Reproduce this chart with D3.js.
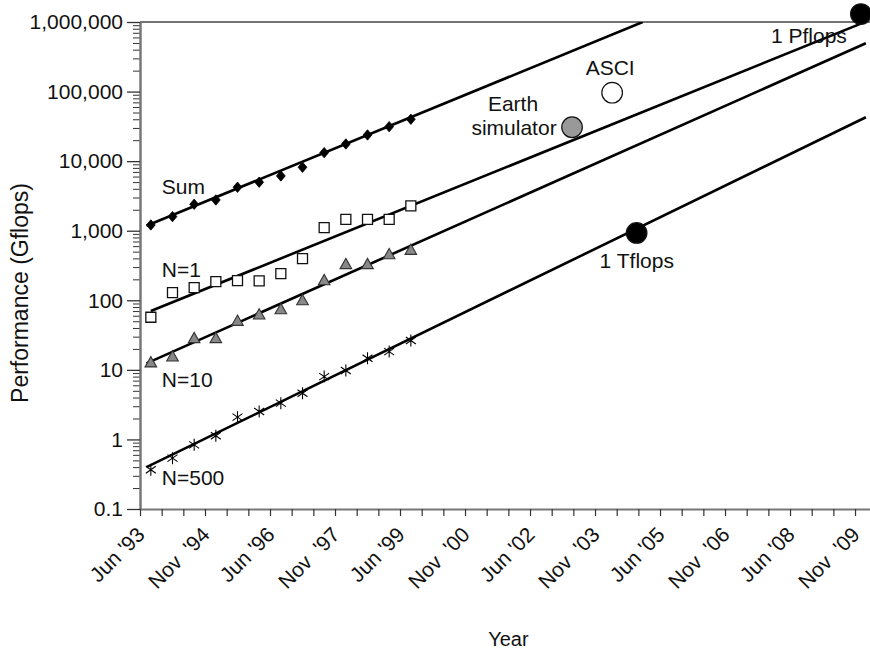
<!DOCTYPE html>
<html>
<head>
<meta charset="utf-8">
<script src="https://cdn.jsdelivr.net/npm/d3@7"></script>
<style>
  body { margin: 0; background: #fff; }
  svg text { font-family: "Liberation Sans", Arial, sans-serif; fill: #111; }
  .axis text { font-size: 21px; }
</style>
</head>
<body>
<svg id="chart"></svg>
<script>
// semester index: 0 = Jun '93, 1 = Nov '93, ... 33 = Nov '09
var tickLabels = ["Jun '93", "Nov\u00a0 '94", "Jun '96", "Nov\u00a0 '97", "Jun '99", "Nov\u00a0 '00",
                  "Jun '02", "Nov\u00a0 '03", "Jun '05", "Nov\u00a0 '06", "Jun '08", "Nov\u00a0 '09"];
var labelIdx = [0, 3, 6, 9, 12, 15, 18, 21, 24, 27, 30, 33];
var yMajor = [0.1, 1, 10, 100, 1000, 10000, 100000, 1000000];

var sumVals  = [1210, 1595, 2400, 2770, 4220, 4980, 6130, 8170, 13250, 17660, 23800, 31300, 40000];
var n1Vals   = [57, 129, 152, 186, 192, 190, 242, 397, 1110, 1460, 1460, 1460, 2270];
var n10Vals  = [12.5, 15.2, 27.9, 27.9, 49.4, 61.1, 72.8, 98, 190, 323, 323, 449, 518];
var n500Vals = [0.366, 0.538, 0.836, 1.13, 2.09, 2.52, 3.32, 4.62, 8.0, 9.77, 14.7, 18.3, 26.4];

// fitted trend lines, [semester, Gflops] at both ends
var sumTrend  = [[-0.2, 1180], [22.7, 1000000]];
var n1Trend   = [[0, 70], [32.8, 955000]];
var n10Trend  = [[-0.2, 12.4], [33, 494000]];
var n500Trend = [[-0.2, 0.40], [33, 42800]];

var milestones = [
  {name: "Earth simulator", i: 19.44, v: 30700},
  {name: "ASCI",            i: 21.29, v: 96400},
  {name: "1 Tflops",        i: 22.42, v: 929},
  {name: "1 Pflops",        i: 32.77, v: 1300000}
];

var width = 870, height = 650,
    margin = {top: 22, left: 140, bottom: 141},
    plotRight = 876.7,
    plotBottom = height - margin.bottom;

var x = d3.scaleLinear().domain([-0.5, 33.5]).range([margin.left, plotRight]),
    y = d3.scaleLog().domain([0.1, 1000000]).range([plotBottom, margin.top]);

var svg = d3.select("#chart")
    .attr("width", width)
    .attr("height", height);

svg.append("defs").append("clipPath")
    .attr("id", "plotclip")
  .append("rect")
    .attr("x", margin.left)
    .attr("y", margin.top)
    .attr("width", plotRight - margin.left)
    .attr("height", plotBottom - margin.top);

// top frame line
svg.append("line")
    .attr("x1", margin.left).attr("x2", plotRight)
    .attr("y1", margin.top).attr("y2", margin.top)
    .attr("stroke", "#444").attr("stroke-width", 1.5);

// y axis: minor then major ticks
var minor = [];
yMajor.slice(0, -1).forEach(function(d) {
  for (var k = 2; k < 10; k++) minor.push(d * k);
});

svg.append("g")
    .attr("class", "axis")
    .attr("transform", "translate(" + margin.left + ",0)")
    .call(d3.axisLeft(y).tickValues(minor).tickSize(7).tickSizeOuter(0).tickFormat(""))
    .call(function(g) { g.select(".domain").remove(); })
    .selectAll("line").attr("stroke", "#333");

var yAxisG = svg.append("g")
    .attr("class", "axis")
    .attr("transform", "translate(" + margin.left + ",0)")
    .call(d3.axisLeft(y).tickValues(yMajor).tickSize(13).tickSizeOuter(0)
          .tickPadding(4).tickFormat(d3.format(",")));
yAxisG.select(".domain").attr("stroke", "#777").attr("stroke-width", 2.5);
yAxisG.selectAll(".tick line").attr("stroke", "#333").attr("stroke-width", 1.3);
yAxisG.selectAll("text").attr("fill", "#111");

// x axis: a tick at each semester boundary
var xAxisG = svg.append("g")
    .attr("class", "axis")
    .attr("transform", "translate(0," + plotBottom + ")")
    .call(d3.axisBottom(x).tickValues(d3.range(34).map(function(i) { return i - 0.5; }))
          .tickSize(7).tickSizeOuter(0).tickFormat(""));
xAxisG.select(".domain").attr("stroke", "#777").attr("stroke-width", 2);
xAxisG.selectAll(".tick line").attr("stroke", "#333").attr("stroke-width", 1.2);

svg.append("g")
  .selectAll("text")
    .data(labelIdx)
  .enter().append("text")
    .attr("transform", function(d) {
      return "translate(" + (x(d - 0.5) + 6) + "," + (plotBottom + 27) + ") rotate(-45)";
    })
    .attr("text-anchor", "end")
    .style("font-size", "21px")
    .text(function(d, i) { return tickLabels[i]; });

svg.append("text")
    .attr("x", (margin.left + plotRight) / 2)
    .attr("y", 646)
    .attr("text-anchor", "middle")
    .style("font-size", "20px")
    .text("Year");

svg.append("text")
    .attr("transform", "translate(28,293) rotate(-90)")
    .attr("text-anchor", "middle")
    .style("font-size", "23px")
    .text("Performance (Gflops)");

// trend lines
var line = d3.line()
    .x(function(d) { return x(d[0]); })
    .y(function(d) { return y(d[1]); });

svg.append("g")
    .attr("clip-path", "url(#plotclip)")
  .selectAll("path")
    .data([sumTrend, n1Trend, n10Trend, n500Trend])
  .enter().append("path")
    .attr("d", line)
    .attr("fill", "none")
    .attr("stroke", "#000")
    .attr("stroke-width", 2.6);

// markers
function drawSeries(vals, pathStr, fill, stroke, sw) {
  svg.append("g")
    .selectAll("path")
      .data(vals)
    .enter().append("path")
      .attr("transform", function(d, i) { return "translate(" + x(i) + "," + y(d) + ")"; })
      .attr("d", pathStr)
      .attr("fill", fill)
      .attr("stroke", stroke)
      .attr("stroke-width", sw);
}

drawSeries(sumVals, "M0,-5.2L4.4,0L0,5.2L-4.4,0Z", "#000", "#000", 0.8);
drawSeries(n1Vals, "M-5,-5H5V5H-5Z", "#fff", "#111", 1.3);
drawSeries(n10Vals, "M0,-6.5L5.8,3.8L-5.8,3.8Z", "#888", "#333", 1.1);
drawSeries(n500Vals, "M0,-6V6M-5,-3.5L5,3.5M-5,3.5L5,-3.5", "none", "#000", 1.1);

// milestone systems
var msFill = {"Earth simulator": "#999", "ASCI": "#fff", "1 Tflops": "#000", "1 Pflops": "#000"};
svg.append("g")
  .selectAll("circle")
    .data(milestones)
  .enter().append("circle")
    .attr("cx", function(d) { return x(d.i); })
    .attr("cy", function(d) { return y(d.v); })
    .attr("r", 10.3)
    .attr("fill", function(d) { return msFill[d.name]; })
    .attr("stroke", "#111")
    .attr("stroke-width", 1.2);

// labels
var labels = svg.append("g").style("font-size", "21px");
function label(txt, px, py, anchor) {
  labels.append("text")
      .attr("x", px).attr("y", py)
      .attr("text-anchor", anchor || "start")
      .text(txt);
}
label("Sum",   x(0) + 11, y(sumVals[0]) - 31);
label("N=1",   x(0) + 11, y(n1Vals[0]) - 40);
label("N=10",  x(0) + 11, y(n10Vals[0]) + 24);
label("N=500", x(0) + 11, y(n500Vals[0]) + 15);

var es = milestones[0], asci = milestones[1], tf = milestones[2], pf = milestones[3];
label("Earth", x(es.i) - 59, y(es.v) - 16, "middle");
label("simulator", x(es.i) - 58, y(es.v) + 8, "middle");
label("ASCI", x(asci.i) - 2, y(asci.v) - 18, "middle");
label("1 Tflops", x(tf.i) - 37, y(tf.v) + 35);
label("1 Pflops", x(pf.i) - 14, y(pf.v) + 29, "end");
</script>
</body>
</html>
